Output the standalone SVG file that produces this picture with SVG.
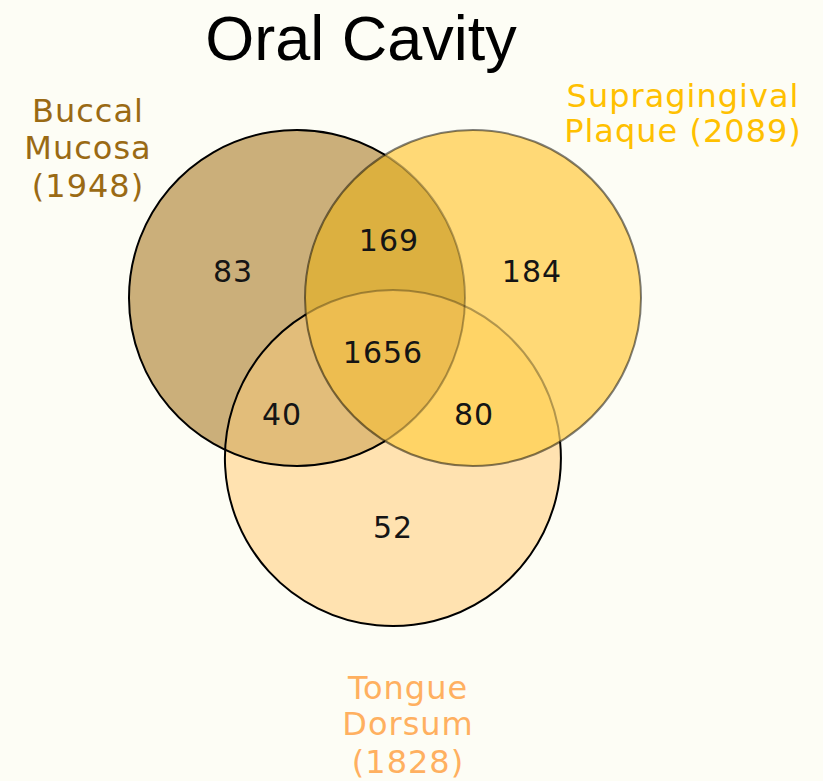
<svg xmlns="http://www.w3.org/2000/svg" width="823" height="781" viewBox="0 0 823 781">
<style>
.t{font-family:"Liberation Sans",Arial,sans-serif;font-size:63px;fill:#000}
.lab{font-family:"DejaVu Sans","Liberation Sans",sans-serif;font-size:32px;text-anchor:middle;letter-spacing:1px}
.num{font-family:"DejaVu Sans","Liberation Sans",sans-serif;font-size:30px;text-anchor:middle;fill:#151515;letter-spacing:1px}
</style>
<defs>
<clipPath id="cA"><circle cx="297" cy="298" r="168"/></clipPath>
<clipPath id="cB"><circle cx="473" cy="298" r="168"/></clipPath>
</defs>
<rect width="823" height="781" fill="#fdfdf5"/>
<text class="t" x="361" y="60" text-anchor="middle">Oral Cavity</text>
<g id="fills">
<circle cx="297" cy="298" r="168" fill="#cbaf7a"/>
<circle cx="393" cy="458" r="168" fill="#ffe2b0"/>
<g clip-path="url(#cA)"><circle cx="393" cy="458" r="168" fill="#e2bd7a"/></g>
<circle cx="473" cy="298" r="168" fill="#ffd976"/>
<g clip-path="url(#cB)">
<circle cx="393" cy="458" r="168" fill="#ffd466"/>
<circle cx="297" cy="298" r="168" fill="#dcb040"/>
<g clip-path="url(#cA)"><circle cx="393" cy="458" r="168" fill="#edbd50"/></g>
</g>
</g>
<g id="connectors" fill="none" stroke-width="2">
<g clip-path="url(#cB)" stroke="#000" stroke-opacity="0.3">
<circle cx="297" cy="298" r="168"/>
<circle cx="393" cy="458" r="168"/>
</g>
</g>
<g id="buccal">
<path d="M 385 154.9 A 168 168 0 1 0 385 441.1" fill="none" stroke="#000" stroke-width="2"/>
<text class="lab" fill="#9a6a14"><tspan x="88" y="122">Buccal</tspan><tspan x="88" y="159">Mucosa</tspan><tspan x="88" y="197">(1948)</tspan></text>
</g>
<g id="tongue">
<path d="M 305.9 314.4 A 168 168 0 1 0 560.1 441.6" fill="none" stroke="#000" stroke-width="2"/>
<text class="lab" fill="#ffb060"><tspan x="408" y="699">Tongue</tspan><tspan x="408" y="735">Dorsum</tspan><tspan x="408" y="773">(1828)</tspan></text>
</g>
<g id="supra">
<circle cx="473" cy="298" r="168" fill="none" stroke="#000" stroke-opacity="0.5" stroke-width="2"/>
<text class="lab" fill="#ffc000"><tspan x="683" y="107">Supragingival</tspan><tspan x="683" y="142">Plaque (2089)</tspan></text>
</g>
<g id="counts">
<text class="num" x="233" y="282">83</text>
<text class="num" x="389" y="251">169</text>
<text class="num" x="532" y="282">184</text>
<text class="num" x="383" y="363">1656</text>
<text class="num" x="282" y="425">40</text>
<text class="num" x="474" y="425">80</text>
<text class="num" x="393" y="538">52</text>
</g>
</svg>
